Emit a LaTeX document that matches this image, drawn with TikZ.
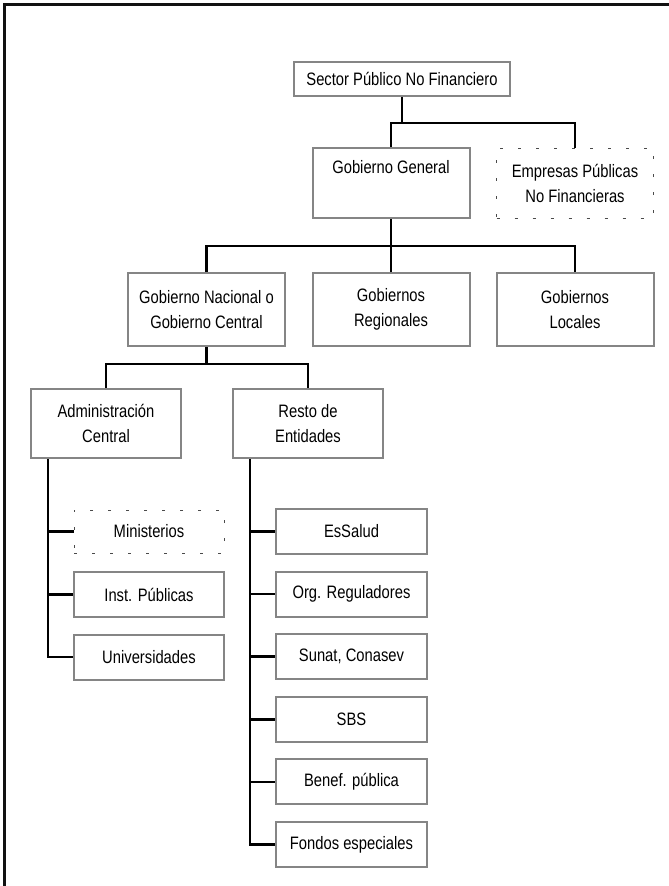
\documentclass[tikz,border=0pt]{standalone}
\usepackage{fontspec}
\setmainfont{Liberation Sans}[FakeStretch=0.82]
\usetikzlibrary{calc,positioning}

\tikzset{
    unit/.style={draw=boxColor, line width=2pt, fill=white, align=center, inner sep=0pt,
        minimum width=157pt, minimum height=70pt},
    unitsmall/.style={unit, minimum width=151pt, minimum height=45pt},
    unitdot/.style={draw=dotColor, line width=1pt, dash pattern=on 3pt off 15pt, align=center,
        inner sep=0pt, minimum width=157pt, minimum height=70pt},
    link/.style={draw=black, line width=2.6pt},
    linkthin/.style={draw=black, line width=1.3pt}
}

\begin{document}
\begin{tikzpicture}[
    x={(1pt,0pt)},
    y={(0pt,-1pt)},
    font=\fontsize{18pt}{25pt}\selectfont
    ]
    
    % Colors
    \definecolor{boxColor}{HTML}{858585}
    \definecolor{dotColor}{HTML}{4A4A4A}
    \definecolor{frameColor}{HTML}{111111}
    
    % Page size
    \useasboundingbox (0,0) rectangle (669,886);
    
    % Frame (top and left only)
    \draw[frameColor, line width=2.4pt] (4.5,886) -- (4.5,4.5) -- (669,4.5);
    
    % Level 1 and 2
    \node[unit, minimum width=216pt, minimum height=34pt] (spnf) at (402,79) {Sector Público No Financiero};
    \node[unit] (gg) at (391,183) {Gobierno General\\ \strut};
    \node[unitdot] (epnf) at (575,183) {Empresas Públicas\\No Financieras};
    
    % Level 3
    \node[unit, minimum height=73pt] (gn) at (206.5,309.5) {Gobierno Nacional o\\Gobierno Central};
    \node[unit, minimum height=73pt] (gr) at (391,309.5) {Gobiernos\\Regionales};
    \node[unit, minimum height=73pt] (gl) at (575,309.5) {Gobiernos\\Locales};
    
    % Level 4
    \node[unit, minimum width=150pt, minimum height=69pt] (adm) at (106,423.5) {Administración\\Central};
    \node[unit, minimum width=150pt, minimum height=69pt] (resto) at (308,423.5) {Resto de\\Entidades};
    
    % Administración Central
    \node[unitdot, minimum width=150pt, minimum height=43pt] (min) at (149,531.5) {Ministerios};
    \node[unitsmall, minimum width=150pt] (inst) at (149,594.5) {Inst. Públicas};
    \node[unitsmall, minimum width=150pt] (univ) at (149,657) {Universidades};
    
    % Resto de Entidades
    \foreach \name/\txt [count=\k from 0] in {essalud/EsSalud, org/Org. Reguladores, sunat/{Sunat, Conasev},
        sbs/SBS, benef/Benef. pública, fondos/Fondos especiales}
    \node[unitsmall] (\name) at (351.5,{531.5+62.6*\k}) {\txt};
    
    % Connectors
    \draw[linkthin] (spnf.south) -- ++(0,26) coordinate (j1);
    \draw[linkthin] (gg.north) |- (epnf.north |- j1) -- (epnf.north);
    
    \draw[link] (gg.south) -- ++(0,27) coordinate (j2);
    \draw[link] (gn.north) |- (gl.north |- j2) -- (gl.north);
    \draw[link] (j2) -- (gr.north);
    
    \draw[link] (gn.south) -- ++(0,17) coordinate (j3);
    \draw[link] (adm.north) |- (resto.north |- j3) -- (resto.north);
    
    \coordinate (ltrunk) at ($(adm.south west)+(18,0)$);
    \draw[link] (ltrunk) |- (univ.west);
    \foreach \name in {min,inst}
    \draw[link] (ltrunk |- \name.west) -- (\name.west);
    
    \coordinate (rtrunk) at ($(resto.south west)+(18,0)$);
    \draw[link] (rtrunk) |- (fondos.west);
    \foreach \name in {essalud,org,sunat,sbs,benef}
    \draw[link] (rtrunk |- \name.west) -- (\name.west);
\end{tikzpicture}
\end{document}
